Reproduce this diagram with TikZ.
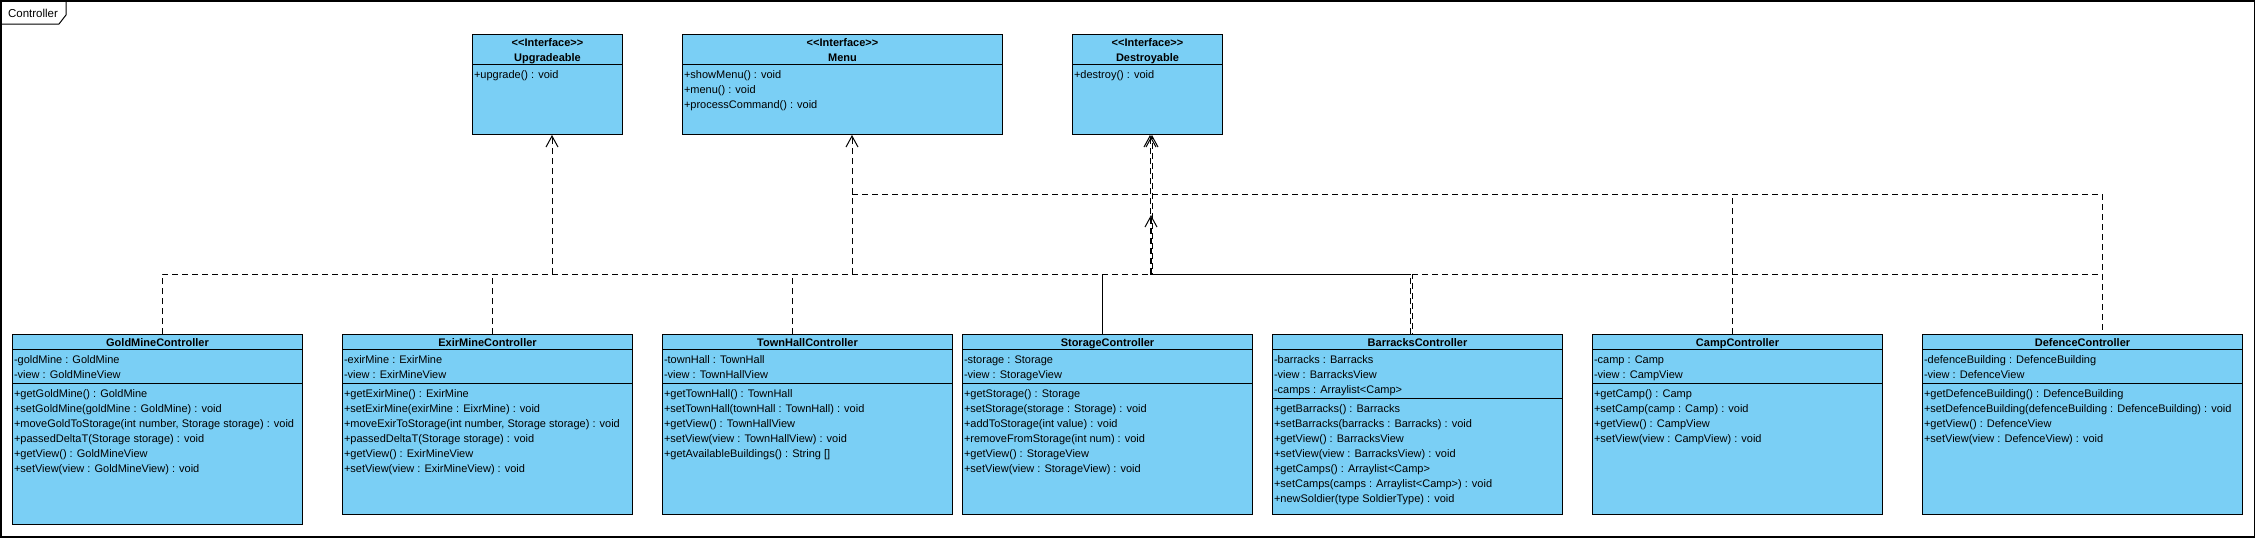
\documentclass[tikz,border=0pt]{standalone}
\usepackage{fontspec}
\setmainfont{Liberation Sans}
\usetikzlibrary{calc,arrows.meta}

\definecolor{umlblue}{HTML}{7ACFF5}
\tikzset{
  cls/.style={draw, fill=umlblue, rectangle, anchor=north west, inner sep=0pt, line width=1pt},
  clsname/.style={anchor=base, inner sep=0pt, font=\bfseries\fontsize{11}{13}\selectfont},
  members/.style={anchor=north west, align=left, inner sep=0pt, font=\fontsize{11}{15}\selectfont},
  realize/.style={line width=1pt, dash pattern=on 6pt off 4pt},
  realizes/.style={realize, -{Straight Barb[length=11pt,width=12pt]}}
}

\begin{document}
\begin{tikzpicture}[x=1pt, y=-1pt]
      \useasboundingbox (0,0) rectangle (2256,538);
      % package frame
      \draw[line width=1.2pt] (1,1) rectangle (2254.5,537);
      \draw[line width=1pt] (1,24) -- (59,24) -- (66,15) -- (66,1);
      \node[inner sep=0pt, font=\fontsize{11.5}{13}\selectfont] (pkg) at (33,13) {Controller};

      % interfaces
      \node [cls, minimum width=150pt, minimum height=100pt] (upg) at (472, 34) {};
      \draw[line width=1pt] ($(upg.north west) + (0, 30)$) -- ($(upg.north east) + (0, 30)$)
        ($(upg.north) + (0, 12.7)$) node [clsname] {<\kern0pt<Interface>\kern0pt>}
        ($(upg.north) + (0, 27.3)$) node [clsname] {Upgradeable}
        ($(upg.north west) + (1.5, 36)$) node [members] {+upgrade() : void}
        ($(upg.south west) + (80, 0)$) coordinate (upgin);
      \node [cls, minimum width=320pt, minimum height=100pt] (menu) at (682, 34) {};
      \draw[line width=1pt] ($(menu.north west) + (0, 30)$) -- ($(menu.north east) + (0, 30)$)
        ($(menu.north) + (0, 12.7)$) node [clsname] {<\kern0pt<Interface>\kern0pt>}
        ($(menu.north) + (0, 27.3)$) node [clsname] {Menu}
        ($(menu.north west) + (1.5, 36)$) node [members] {+showMenu() : void\\+menu() : void\\+processCommand() : void}
        ($(menu.south west) + (170, 0)$) coordinate (menuin);
      \node [cls, minimum width=150pt, minimum height=100pt] (dest) at (1072, 34) {};
      \draw[line width=1pt] ($(dest.north west) + (0, 30)$) -- ($(dest.north east) + (0, 30)$)
        ($(dest.north) + (0, 12.7)$) node [clsname] {<\kern0pt<Interface>\kern0pt>}
        ($(dest.north) + (0, 27.3)$) node [clsname] {Destroyable}
        ($(dest.north west) + (1.5, 36)$) node [members] {+destroy() : void}
        ($(dest.south west) + (78, 0)$) coordinate (destin)
        ($(dest.south west) + (80, 0)$) coordinate (destin2)
        ($(dest.south west) + (79, 80)$) coordinate (destmid);

      % controllers
      \node [cls, minimum width=290pt, minimum height=190pt] (gold) at (12, 334) {};
      \draw[line width=1pt] ($(gold.north west) + (0, 15)$) -- ($(gold.north east) + (0, 15)$)
        ($(gold.north west) + (0, 49)$) -- ($(gold.north east) + (0, 49)$)
        ($(gold.north) + (0, 12.7)$) node [clsname] {GoldMineController}
        ($(gold.north west) + (1.5, 21)$) node [members] {-goldMine : GoldMine\\-view : GoldMineView}
        ($(gold.north west) + (1.5, 55)$) node [members] {+getGoldMine() : GoldMine\\+setGoldMine(goldMine : GoldMine) : void\\+moveGoldToStorage(int number, Storage storage) : void\\+passedDeltaT(Storage storage) : void\\+getView() : GoldMineView\\+setView(view : GoldMineView) : void}
        ($(gold.north west) + (150, 0)$) coordinate (goldin);
      \node [cls, minimum width=290pt, minimum height=180pt] (exir) at (342, 334) {};
      \draw[line width=1pt] ($(exir.north west) + (0, 15)$) -- ($(exir.north east) + (0, 15)$)
        ($(exir.north west) + (0, 49)$) -- ($(exir.north east) + (0, 49)$)
        ($(exir.north) + (0, 12.7)$) node [clsname] {ExirMineController}
        ($(exir.north west) + (1.5, 21)$) node [members] {-exirMine : ExirMine\\-view : ExirMineView}
        ($(exir.north west) + (1.5, 55)$) node [members] {+getExirMine() : ExirMine\\+setExirMine(exirMine : EixrMine) : void\\+moveExirToStorage(int number, Storage storage) : void\\+passedDeltaT(Storage storage) : void\\+getView() : ExirMineView\\+setView(view : ExirMineView) : void}
        ($(exir.north west) + (150, 0)$) coordinate (exirin);
      \node [cls, minimum width=290pt, minimum height=180pt] (town) at (662, 334) {};
      \draw[line width=1pt] ($(town.north west) + (0, 15)$) -- ($(town.north east) + (0, 15)$)
        ($(town.north west) + (0, 49)$) -- ($(town.north east) + (0, 49)$)
        ($(town.north) + (0, 12.7)$) node [clsname] {TownHallController}
        ($(town.north west) + (1.5, 21)$) node [members] {-townHall : TownHall\\-view : TownHallView}
        ($(town.north west) + (1.5, 55)$) node [members] {+getTownHall() : TownHall\\+setTownHall(townHall : TownHall) : void\\+getView() : TownHallView\\+setView(view : TownHallView) : void\\+getAvailableBuildings() : String []}
        ($(town.north west) + (130, 0)$) coordinate (townin);
      \node [cls, minimum width=290pt, minimum height=180pt] (stor) at (962, 334) {};
      \draw[line width=1pt] ($(stor.north west) + (0, 15)$) -- ($(stor.north east) + (0, 15)$)
        ($(stor.north west) + (0, 49)$) -- ($(stor.north east) + (0, 49)$)
        ($(stor.north) + (0, 12.7)$) node [clsname] {StorageController}
        ($(stor.north west) + (1.5, 21)$) node [members] {-storage : Storage\\-view : StorageView}
        ($(stor.north west) + (1.5, 55)$) node [members] {+getStorage() : Storage\\+setStorage(storage : Storage) : void\\+addToStorage(int value) : void\\+removeFromStorage(int num) : void\\+getView() : StorageView\\+setView(view : StorageView) : void}
        ($(stor.north west) + (140, 0)$) coordinate (storin);
      \node [cls, minimum width=290pt, minimum height=180pt] (barr) at (1272, 334) {};
      \draw[line width=1pt] ($(barr.north west) + (0, 15)$) -- ($(barr.north east) + (0, 15)$)
        ($(barr.north west) + (0, 64)$) -- ($(barr.north east) + (0, 64)$)
        ($(barr.north) + (0, 12.7)$) node [clsname] {BarracksController}
        ($(barr.north west) + (1.5, 21)$) node [members] {-barracks : Barracks\\-view : BarracksView\\-camps : Arraylist<Camp>}
        ($(barr.north west) + (1.5, 70)$) node [members] {+getBarracks() : Barracks\\+setBarracks(barracks : Barracks) : void\\+getView() : BarracksView\\+setView(view : BarracksView) : void\\+getCamps() : Arraylist<Camp>\\+setCamps(camps : Arraylist<Camp>) : void\\+newSoldier(type SoldierType) : void}
        ($(barr.north west) + (138.5, 0)$) coordinate (barrin)
        ($(barr.north west) + (140.5, 0)$) coordinate (barrin2);
      \node [cls, minimum width=290pt, minimum height=180pt] (camp) at (1592, 334) {};
      \draw[line width=1pt] ($(camp.north west) + (0, 15)$) -- ($(camp.north east) + (0, 15)$)
        ($(camp.north west) + (0, 49)$) -- ($(camp.north east) + (0, 49)$)
        ($(camp.north) + (0, 12.7)$) node [clsname] {CampController}
        ($(camp.north west) + (1.5, 21)$) node [members] {-camp : Camp\\-view : CampView}
        ($(camp.north west) + (1.5, 55)$) node [members] {+getCamp() : Camp\\+setCamp(camp : Camp) : void\\+getView() : CampView\\+setView(view : CampView) : void}
        ($(camp.north west) + (140, 0)$) coordinate (campin);
      \node [cls, minimum width=320pt, minimum height=180pt] (def) at (1922, 334) {};
      \draw[line width=1pt] ($(def.north west) + (0, 15)$) -- ($(def.north east) + (0, 15)$)
        ($(def.north west) + (0, 49)$) -- ($(def.north east) + (0, 49)$)
        ($(def.north) + (0, 12.7)$) node [clsname] {DefenceController}
        ($(def.north west) + (1.5, 21)$) node [members] {-defenceBuilding : DefenceBuilding\\-view : DefenceView}
        ($(def.north west) + (1.5, 55)$) node [members] {+getDefenceBuilding() : DefenceBuilding\\+setDefenceBuilding(defenceBuilding : DefenceBuilding) : void\\+getView() : DefenceView\\+setView(view : DefenceView) : void}
        ($(def.north west) + (180, 0)$) coordinate (defin);

      % realizations
      \coordinate (lowbus) at (0, 274);
      \coordinate (upbus) at (0, 194);
      \draw[realize]
        (goldin) -- (goldin |- lowbus) -- (defin |- lowbus)
        (exirin) -- (exirin |- lowbus)
        (townin) -- (townin |- lowbus)
        (barrin) -- (barrin |- lowbus)
        (campin) -- (campin |- upbus)
        (menuin |- upbus) -- (defin |- upbus) -- (defin);
      \draw[realize, dash phase=5pt] (barrin2) -- (barrin2 |- lowbus);
      \draw[line width=1pt]
        (storin) -- (storin |- lowbus)
        (destin |- lowbus) -- (barrin |- lowbus);
      \draw[realizes] (upgin |- lowbus) -- (upgin);
      \draw[realizes] (menuin |- lowbus) -- (menuin);
      \draw[realizes] (destin |- lowbus) -- (destin);
      \draw[realizes, dash phase=5pt] (destin2 |- lowbus) -- (destin2);
      \draw[realizes] (destmid |- lowbus) -- (destmid);
    \end{tikzpicture}
\end{document}
